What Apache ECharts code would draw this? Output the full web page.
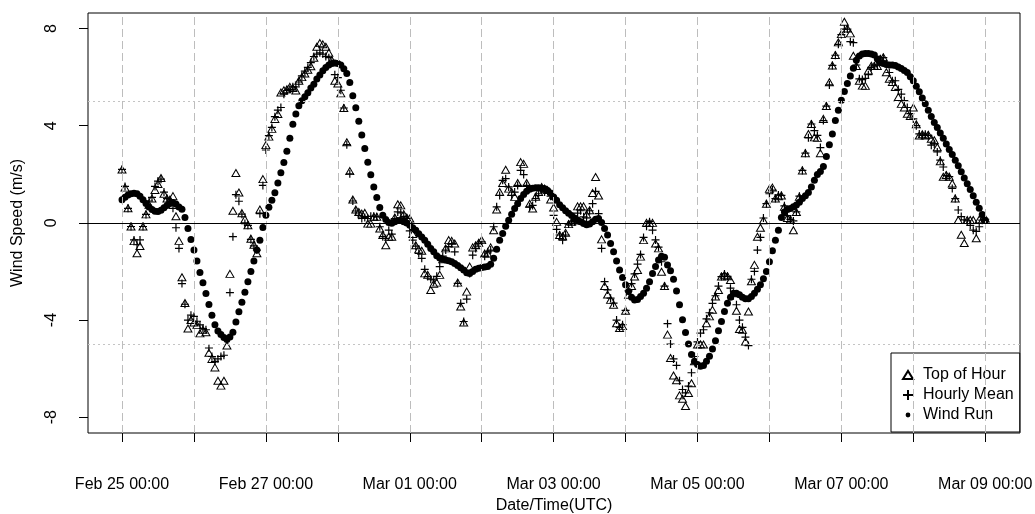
<!DOCTYPE html>
<html><head><meta charset="utf-8">
<script src="https://cdn.jsdelivr.net/npm/echarts@6/dist/echarts.min.js"></script>
<style>html,body{margin:0;padding:0;background:#fff}#c{width:1035px;height:514px}</style>
</head><body><div id="c"></div>
<script>
// Day tick labels (one tick per day, hourly data starting Feb 25 00:00 UTC)
const xTickLabels = ['Feb 25 00:00','Feb 26 00:00','Feb 27 00:00','Feb 28 00:00','Mar 01 00:00','Mar 02 00:00','Mar 03 00:00','Mar 04 00:00','Mar 05 00:00','Mar 06 00:00','Mar 07 00:00','Mar 08 00:00','Mar 09 00:00'];
const yTicks = [-8, -4, 0, 4, 8];
const refLinesY = [-5, 5];

const topOfHour = [
 2.2, 1.45, 0.6, -0.15, -0.75, -1.25, -0.95, -0.15, 0.35, 0.75,
 1.0, 1.35, 1.6, 1.85, 1.2, 1.0, 0.95, 1.1, 0.27, -0.74,
 -2.24, -3.3, -4.35, -4.0, -4.1, -4.2, -4.55, -4.4, -4.5, -5.35,
 -5.6, -5.95, -6.5, -6.7, -6.5, -5.05, -2.1, 0.5, 2.05, 1.25,
 0.4, 0.15, -0.1, -0.65, -0.9, -1.25, 0.55, 1.8, 3.2, 3.55,
 3.87, 4.28, 4.48, 5.37, 5.46, 5.5, 5.6, 5.55, 5.45, 5.85,
 6.0, 6.15, 6.3, 6.45, 6.8, 7.25, 7.4, 7.35, 7.25, 7.0,
 6.7, 5.85, 5.74, 5.33, 4.73, 3.32, 2.13, 0.96, 0.55, 0.45,
 0.38, 0.41, -0.03, -0.03, 0.25, 0.25, -0.23, -0.5, -0.92, -0.57,
 -0.57, 0.22, 0.77, 0.72, 0.36, 0.22, 0.18, -0.46, -0.92, -1.09,
 -1.15, -2.08, -2.14, -2.76, -2.51, -2.46, -2.14, -1.5, -1.05, -0.71,
 -0.74, -0.85, -2.46, -3.44, -4.1, -2.83, -1.8, -1.01, -0.92, -0.82,
 -0.71, -1.26, -1.26, -1.01, -0.3, 0.55, 1.27, 1.64, 2.19, 1.41,
 1.27, 1.07, 1.64, 2.5, 2.43, 1.64, 0.79, 0.59, 1.07, 1.27,
 1.48, 1.41, 1.35, 0.96, 0.63, 0.04, -0.5, -0.55, -0.41, -0.05,
 0.04, 0.1, 0.68, 0.68, 0.68, 0.35, 0.52, 1.23, 1.89, 1.13,
 -0.68, -2.6, -2.95, -3.17, -3.37, -4.13, -4.33, -4.25, -3.62, -2.96,
 -2.6, -2.21, -1.94, -1.39, -0.71, 0.0, 0.0, 0.0, -0.85, -1.05,
 -2.01, -2.6, -4.6, -5.56, -6.28, -6.48, -7.1, -7.24, -7.54, -7.0,
 -6.6, -5.7, -5.01, -5.0, -5.01, -4.13, -3.85, -3.58, -3.03, -2.76,
 -2.21, -2.14, -2.2, -2.35, -2.9, -3.62, -4.37, -4.4, -4.88, -3.65,
 -2.4, -1.73, -0.57, -0.2, 0.11, 0.79, 1.4, 1.45, 1.0, 1.1,
 1.13, 0.66, 0.2, 0.14, -0.3, 0.45, 1.07, 2.16, 2.87, 3.66,
 4.07, 3.52, 3.5, 2.87, 4.28, 4.81, 5.79, 6.48, 6.91, 7.43,
 7.77, 8.28, 8.0, 7.8, 6.88, 6.46, 5.85, 5.65, 5.64, 6.27,
 6.47, 6.46, 6.46, 6.75, 6.82, 6.2, 5.93, 5.8, 5.59, 5.18,
 4.9, 4.75, 4.49, 4.4, 4.75, 4.06, 3.6, 3.65, 3.6, 3.63,
 3.46, 3.4, 3.11, 2.54, 1.9, 1.97, 1.9, 1.62, 1.0, 0.12,
 -0.49, -0.83, 0.12, 0.12, 0.12, -0.63, 0.14, 0.12, 0.18
];

const hourlyMean = [
 2.2, 1.5, 0.6, -0.15, -0.7, -0.9, -0.7, -0.15, 0.35, 0.9,
 1.05, 1.5, 1.72, 1.8, 1.27, 1.0, 0.95, 0.6, -0.2, -1.05,
 -2.5, -3.35, -4.0, -3.8, -3.85, -4.05, -4.2, -4.35, -4.4, -5.15,
 -5.5, -5.7, -5.6, -5.5, -5.45, -4.8, -2.87, -0.57, 1.16, 0.89,
 0.36, -0.03, -0.1, -0.68, -0.95, -1.12, 0.38, 1.54, 3.0, 3.59,
 3.93, 4.37, 4.64, 4.75, 5.3, 5.45, 5.5, 5.6, 5.6, 5.8,
 6.05, 6.25, 6.4, 6.6, 6.85, 6.95, 7.0, 6.95, 6.85, 6.8,
 6.6, 6.1, 5.98, 5.46, 4.73, 3.22, 2.02, 0.9, 0.49, 0.31,
 0.18, 0.22, 0.18, 0.27, 0.27, 0.25, -0.16, -0.57, -0.64, -0.3,
 -0.46, 0.18, 0.45, 0.41, 0.27, 0.18, -0.33, -0.71, -0.96, -1.26,
 -1.46, -1.91, -2.21, -2.32, -2.35, -2.2, -1.8, -1.37, -1.12, -0.98,
 -0.85, -1.19, -2.49, -3.31, -4.06, -3.14, -2.08, -1.33, -1.05, -0.85,
 -0.78, -1.37, -1.19, -1.12, -0.16, 0.66, 1.13, 1.75, 1.82, 1.48,
 1.13, 1.27, 1.54, 2.16, 1.99, 1.54, 0.66, 0.72, 1.0, 1.2,
 1.41, 1.27, 1.3, 1.1, 0.31, -0.27, -0.5, -0.71, -0.5, -0.05,
 0.04, 0.05, 0.4, 0.5, 0.25, 0.2, 0.5, 0.79, 1.3, 0.38,
 -1.05, -2.42, -2.76, -3.1, -3.3, -4.0, -4.3, -4.19, -3.6, -2.8,
 -2.5, -2.1, -1.7, -1.3, -0.6, -0.14, 0.05, -0.3, -0.7, -1.0,
 -1.6, -2.6, -4.15, -4.99, -5.6, -5.87, -6.5, -6.86, -7.0, -6.72,
 -6.17, -5.5, -4.9, -4.54, -4.4, -3.95, -3.7, -3.31, -3.0, -2.6,
 -2.21, -2.1, -2.2, -2.69, -3.0, -3.37, -4.0, -4.3, -4.7, -5.05,
 -2.32, -2.0, -1.12, -0.6, 0.2, 0.79, 1.2, 1.35, 1.0, 1.15,
 1.13, 0.7, 0.3, 0.14, 0.08, 0.45, 1.1, 2.16, 2.87, 3.5,
 4.07, 3.8, 3.6, 3.1, 4.21, 4.81, 5.68, 6.48, 6.9, 7.35,
 7.75, 7.98, 7.98, 7.46, 7.42, 6.5, 5.93, 5.9, 5.95, 6.1,
 6.4, 6.46, 6.5, 6.75, 6.8, 6.55, 6.19, 5.85, 5.85, 5.5,
 5.3, 5.03, 4.75, 4.5, 4.28, 4.0, 3.66, 3.6, 3.65, 3.6,
 3.2, 3.25, 2.92, 2.58, 2.3, 1.95, 1.9, 1.42, 1.0, 0.53,
 0.26, 0.12, 0.08, -0.1, -0.3, -0.35, -0.16, 0.11, 0.15
];

const windRun = [
 0.95, 1.05, 1.15, 1.2, 1.22, 1.2, 1.1, 0.95, 0.8, 0.65,
 0.55, 0.48, 0.47, 0.52, 0.62, 0.72, 0.8, 0.83, 0.78, 0.65,
 0.56, 0.22, -0.23, -0.68, -1.12, -1.57, -2.04, -2.46, -2.91, -3.36,
 -3.8, -4.19, -4.45, -4.6, -4.72, -4.8, -4.7, -4.5, -4.08, -3.66,
 -3.27, -2.86, -2.42, -2.0, -1.57, -1.12, -0.71, -0.19, 0.31, 0.64,
 0.93, 1.24, 1.64, 2.06, 2.49, 2.95, 3.48, 4.06, 4.48, 4.82,
 5.03, 5.19, 5.36, 5.55, 5.71, 5.92, 6.09, 6.26, 6.4, 6.5,
 6.56, 6.58, 6.56, 6.5, 6.35, 6.15, 5.78, 5.23, 4.74, 4.18,
 3.62, 3.06, 2.5, 1.98, 1.48, 1.04, 0.63, 0.31, 0.14, 0.02,
 -0.02, 0.05, 0.1, 0.1, 0.05, 0.0, -0.1, -0.2, -0.3, -0.45,
 -0.58, -0.71, -0.88, -1.05, -1.19, -1.35, -1.45, -1.5, -1.53, -1.56,
 -1.6, -1.67, -1.75, -1.85, -1.94, -2.05, -2.08, -2.0, -1.91, -1.87,
 -1.84, -1.82, -1.8, -1.7, -1.46, -1.09, -0.71, -0.44, -0.14, 0.11,
 0.36, 0.59, 0.79, 1.0, 1.17, 1.3, 1.38, 1.43, 1.45, 1.45,
 1.43, 1.4, 1.33, 1.23, 1.07, 0.93, 0.75, 0.62, 0.5, 0.4,
 0.3, 0.2, 0.12, 0.05, -0.03, -0.08, -0.05, 0.05, 0.15, 0.18,
 0.02, -0.23, -0.5, -0.85, -1.19, -1.57, -1.94, -2.25, -2.55, -2.83,
 -3.06, -3.17, -3.15, -3.03, -2.9, -2.69, -2.42, -2.08, -1.8, -1.53,
 -1.37, -1.42, -1.73, -1.97, -2.32, -2.8, -3.37, -3.99, -4.51, -4.99,
 -5.42, -5.7, -5.83, -5.9, -5.87, -5.7, -5.49, -5.19, -4.85, -4.44,
 -4.06, -3.65, -3.31, -3.06, -2.9, -2.9, -2.96, -3.06, -3.12, -3.12,
 -3.03, -2.9, -2.73, -2.55, -2.3, -2.0, -1.6, -1.15, -0.71, -0.3,
 0.22, 0.45, 0.55, 0.59, 0.66, 0.74, 0.85, 1.0, 1.12, 1.25,
 1.48, 1.75, 1.99, 2.12, 2.32, 2.73, 3.22, 3.66, 4.21, 4.64,
 5.05, 5.41, 5.74, 6.05, 6.37, 6.69, 6.87, 6.95, 6.97, 6.97,
 6.95, 6.91, 6.75, 6.6, 6.56, 6.52, 6.5, 6.5, 6.48, 6.42,
 6.36, 6.27, 6.19, 6.02, 5.85, 5.62, 5.4, 5.14, 4.9, 4.64,
 4.38, 4.13, 3.93, 3.7, 3.48, 3.25, 3.02, 2.81, 2.58, 2.35,
 2.1, 1.85, 1.61, 1.37, 1.12, 0.85, 0.6, 0.35, 0.11
];

const FONT = '"Liberation Sans", Arial, Helvetica, sans-serif';
const HOURS_PER_DAY = 24;
const toPts = arr => arr.map((v, i) => [i, v]);
const dayHours = xTickLabels.map((_, i) => i * HOURS_PER_DAY);
const labelHours = dayHours.filter((_, i) => i % 2 === 0);

const chart = echarts.init(document.getElementById('c'), null, {renderer: 'canvas'});
const option = {
  animation: false,
  backgroundColor: '#fff',
  textStyle: {fontFamily: FONT, color: '#000'},
  grid: {left: 88, right: 15, top: 13, bottom: 81, show: true, borderColor: '#000', borderWidth: 1,
         backgroundColor: 'transparent', containLabel: false, outerBoundsMode: 'none'},
  xAxis: {
    type: 'value', min: -11.35, max: 299.6,
    axisLine: {show: false, onZero: false},
    axisTick: {show: true, customValues: dayHours, length: 9, lineStyle: {color: '#000', width: 1}},
    axisLabel: {customValues: labelHours, formatter: v => xTickLabels[Math.round(v / HOURS_PER_DAY)], fontSize: 16, color: '#000', margin: 44, fontFamily: FONT},
    splitLine: {show: false},
    name: 'Date/Time(UTC)', nameLocation: 'middle', nameGap: 59,
    nameTextStyle: {fontSize: 16, color: '#000', fontFamily: FONT}
  },
  yAxis: {
    type: 'value', min: -8.65, max: 8.64,
    axisLine: {show: false, onZero: false},
    axisTick: {show: true, customValues: yTicks, length: 9, lineStyle: {color: '#000', width: 1}},
    axisLabel: {customValues: yTicks, rotate: 90, fontSize: 16, color: '#000', margin: 28, fontFamily: FONT},
    splitLine: {show: false},
    name: 'Wind Speed (m/s)', nameLocation: 'middle', nameRotate: 90, nameGap: 62,
    nameTextStyle: {fontSize: 16, color: '#000', fontFamily: FONT}
  },
  legend: {
    orient: 'vertical', left: 891, top: 353,
    itemWidth: 20, itemHeight: 10, itemGap: 4,
    padding: [14, 6, 9, 6],
    borderColor: '#000', borderWidth: 1, borderRadius: 0, backgroundColor: '#fff',
    selectedMode: false,
    textStyle: {fontSize: 16, color: '#000', fontFamily: FONT},
    data: [
      {name: 'Top of Hour', icon: 'path://M0,0M20,10M5,9L10,1L15,9Z'},
      {name: 'Hourly Mean', icon: 'path://M0,0M20,10M5,5L15,5M10,0L10,10'},
      {name: 'Wind Run', icon: 'path://M0,0M20,10M10,2.6A2.4,2.4,0,1,1,9.99,2.6Z'}
    ]
  },
  series: [
    {
      type: 'scatter', name: 'guides', data: [], silent: true, z: 1,
      markLine: {
        silent: true, symbol: 'none', label: {show: false}, animation: false,
        data: [
          ...dayHours.map(h => ({xAxis: h, lineStyle: {color: '#bdbdbd', type: [8, 4], width: 1}})),
          ...refLinesY.map(y => ({yAxis: y, lineStyle: {color: '#c4c4c4', type: [2, 3], width: 1}})),
          {yAxis: 0, lineStyle: {color: '#000', type: 'solid', width: 1}}
        ]
      }
    },
    {
      type: 'scatter', name: 'Top of Hour', data: toPts(topOfHour), z: 3,
      symbol: 'triangle', symbolSize: [8, 7],
      itemStyle: {color: 'rgba(0,0,0,0)', borderColor: '#000', borderWidth: 1, opacity: 1}
    },
    {
      type: 'scatter', name: 'Hourly Mean', data: toPts(hourlyMean), z: 3,
      symbol: 'path://M0,5L10,5M5,0L5,10', symbolSize: 8,
      itemStyle: {color: 'rgba(0,0,0,0)', borderColor: '#000', borderWidth: 1.2, opacity: 1}
    },
    {
      type: 'scatter', name: 'Wind Run', data: toPts(windRun), z: 3,
      symbol: 'circle', symbolSize: 7,
      itemStyle: {color: '#000', opacity: 1}
    }
  ]
};
chart.setOption(option);
</script>
</body></html>
